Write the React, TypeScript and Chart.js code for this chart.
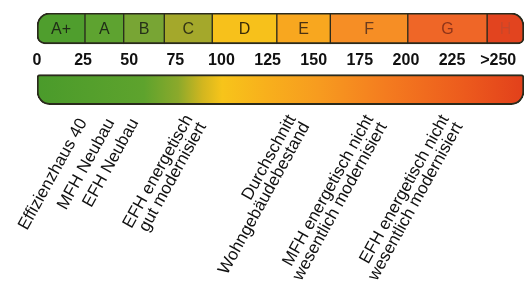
import React, { useEffect, useRef } from 'react';
import { Chart, registerables } from 'chart.js';

Chart.register(...registerables);

// ---- data ----
const rows = ['Klassen', 'Skala', 'Verlauf'];
const classNames = ['A+', 'A', 'B', 'C', 'D', 'E', 'F', 'G', 'H'];
const classStarts = [0, 26, 47, 69, 95, 130, 159, 201, 244];
const classEnds = [26, 47, 69, 95, 130, 159, 201, 244, 264];
const classColors = ['#4f9e2d', '#5ea330', '#78a534', '#a4a82b', '#f7c11b', '#f8a71f', '#f68e25', '#ef6627', '#e2441f'];
const classTextColors = ['#1f2c17', '#1f2c17', '#26301a', '#333414', '#3a2c08', '#4a3212', '#6a3c1e', '#8e3419', '#c9472a'];
const scaleMin = 0;
const scaleMax = 264;
const tickValues = [0, 25, 50, 75, 100, 125, 150, 175, 200, 225, 250];
const tickLabels = ['0', '25', '50', '75', '100', '125', '150', '175', '200', '225', '>250'];
const markerLabels = [
  ['Effizienzhaus 40'],
  ['MFH Neubau'],
  ['EFH Neubau'],
  ['EFH energetisch', 'gut modernisiert'],
  ['Durchschnitt', 'Wohngebäudebestand'],
  ['MFH energetisch nicht', 'wesentlich modernisiert'],
  ['EFH energetisch nicht', 'wesentlich modernisiert'],
];
const markerValues = [25, 40, 53, 86, 142, 184, 225];

const gradientStops: [number, string][] = [
  [0, '#4a9b2b'],
  [0.22, '#5ea32d'],
  [0.29, '#8ba92b'],
  [0.34, '#d2b61f'],
  [0.38, '#f7c41a'],
  [0.47, '#f8b01c'],
  [0.58, '#f79b1f'],
  [0.72, '#f47b1f'],
  [0.88, '#ec5a1d'],
  [1, '#e2401b'],
];

const FONT = '"Liberation Sans", Arial, Helvetica, sans-serif';
const OUTLINE = '#2a2a1c';

const labelPlugin = {
  id: 'scaleLabels',
  afterDatasetsDraw(chart: any) {
    const ctx = chart.ctx as CanvasRenderingContext2D;
    const xs = chart.scales.x;
    const ys = chart.scales.y;
    ctx.save();
    // class letters
    ctx.font = `16px ${FONT}`;
    ctx.textAlign = 'center';
    ctx.textBaseline = 'middle';
    const cy = ys.getPixelForValue(0);
    classNames.forEach((n, i) => {
      const cx = xs.getPixelForValue((classStarts[i] + classEnds[i]) / 2);
      ctx.fillStyle = classTextColors[i];
      ctx.fillText(n, cx, cy + 1);
    });
    // rotated marker labels
    ctx.font = `17px ${FONT}`;
    ctx.fillStyle = '#111111';
    ctx.textAlign = 'right';
    const ay = chart.chartArea.bottom + 15;
    const lh = 15.5;
    const ang = (-61 * Math.PI) / 180;
    markerLabels.forEach((lines, i) => {
      const px = xs.getPixelForValue(markerValues[i]);
      ctx.save();
      ctx.translate(px, ay);
      ctx.rotate(ang);
      lines.forEach((t, j) => {
        ctx.fillText(t, 0, (j - (lines.length - 1) / 2) * lh);
      });
      ctx.restore();
    });
    ctx.restore();
  },
};

export default function App() {
  const ref = useRef<HTMLCanvasElement | null>(null);

  useEffect(() => {
    if (!ref.current) return;
    const last = classNames.length - 1;
    const classDatasets = classNames.map((n, i) => ({
      label: n,
      data: [[classStarts[i], classEnds[i]], null, null] as any,
      backgroundColor: classColors[i],
      borderColor: OUTLINE,
      borderWidth: { top: 2, bottom: 2, left: i === 0 ? 2 : 1, right: i === last ? 2 : 1 },
      borderSkipped: false,
      borderRadius:
        i === 0
          ? { topLeft: 13, bottomLeft: 8, topRight: 0, bottomRight: 0 }
          : i === last
          ? { topLeft: 0, bottomLeft: 0, topRight: 13, bottomRight: 6 }
          : 0,
      grouped: false,
      barThickness: 31,
    }));
    const gradientDataset = {
      label: 'Verlauf',
      data: [null, null, [scaleMin, scaleMax]] as any,
      backgroundColor: (c: any) => {
        const area = c.chart.chartArea;
        if (!area) return gradientStops[0][1];
        const g = c.chart.ctx.createLinearGradient(area.left, 0, area.right, 0);
        gradientStops.forEach(([o, col]) => g.addColorStop(o, col));
        return g;
      },
      borderColor: OUTLINE,
      borderWidth: 2,
      borderSkipped: false,
      borderRadius: { topLeft: 3, bottomLeft: 13, topRight: 3, bottomRight: 13 },
      grouped: false,
      barThickness: 30,
    };

    const chart = new Chart(ref.current, {
      type: 'bar',
      data: { labels: rows, datasets: [...classDatasets, gradientDataset] as any },
      options: {
        indexAxis: 'y',
        animation: false,
        responsive: true,
        maintainAspectRatio: false,
        events: [],
        layout: { autoPadding: false, padding: { left: 37, right: 7, top: 13, bottom: 190 } },
        plugins: { legend: { display: false }, tooltip: { enabled: false } },
        scales: {
          y: { type: 'category', display: false, grid: { display: false } },
          x: {
            type: 'linear',
            min: scaleMin,
            max: scaleMax,
            position: { y: 0.5 } as any,
            grid: { display: false, drawTicks: false },
            border: { display: false },
            afterBuildTicks: (s: any) => {
              s.ticks = tickValues.map((v) => ({ value: v }));
            },
            ticks: {
              autoSkip: false,
              maxRotation: 0,
              minRotation: 0,
              padding: 7,
              color: '#111111',
              font: { size: 16, weight: 'bold', family: FONT },
              callback: (v: any) => tickLabels[tickValues.indexOf(Number(v))],
            },
          },
        },
      },
      plugins: [labelPlugin],
    });
    return () => chart.destroy();
  }, []);

  return (
    <div style={{ position: 'absolute', left: 0, top: 0, width: 531, height: 295, background: '#ffffff' }}>
      <canvas ref={ref} />
    </div>
  );
}
